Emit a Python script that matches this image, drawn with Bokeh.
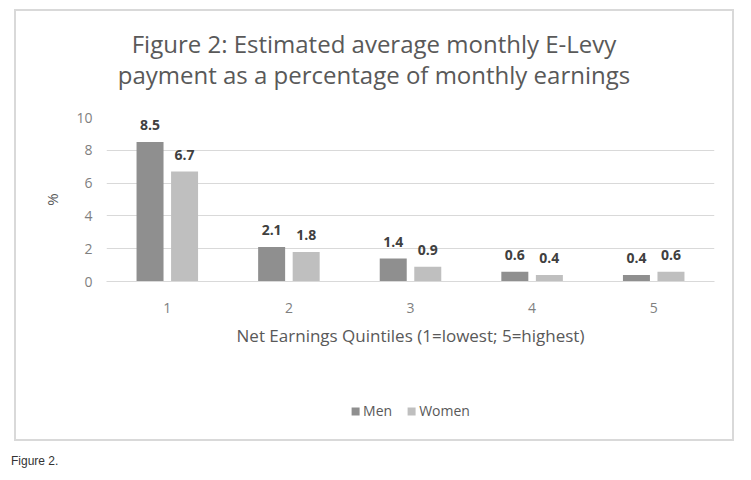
from bokeh.plotting import figure
from bokeh.models import (ColumnDataSource, FactorRange, LabelSet, Legend,
                          LegendItem, Div, FixedTicker, Spacer)
from bokeh.transform import dodge
from bokeh.layouts import column, row
from bokeh.embed import file_html
from bokeh.resources import INLINE
from bokeh.core.properties import value

# ---- data ----
quintiles = ["1", "2", "3", "4", "5"]
men = [8.5, 2.1, 1.4, 0.6, 0.4]
women = [6.7, 1.8, 0.9, 0.4, 0.6]
y_ticks = [0, 2, 4, 6, 8, 10]
title_line1 = "Figure 2: Estimated average monthly E-Levy"
title_line2 = "payment as a percentage of monthly earnings"
x_title = "Net Earnings Quintiles (1=lowest; 5=highest)"
y_title = "%"
series_names = ["Men", "Women"]
caption = "Figure 2."

FONT = "Open Sans"
MEN_C = "#8f8f8f"
WOMEN_C = "#bfbfbf"
GRID_C = "#d9d9d9"
BORDER = f"2px solid {GRID_C}"

src = ColumnDataSource(dict(
    q=quintiles, men=men, women=women,
    men_lbl=[f"{v:.1f}" for v in men],
    women_lbl=[f"{v:.1f}" for v in women],
))

# ---- title block (top part of the bordered box) ----
title_div = Div(
    text=(f'<div style="width:716px; text-align:center; font-family:\'Open Sans\'; '
          f'font-size:24px; color:#595959; line-height:31px; padding-top:17px">'
          f'{title_line1}<br>{title_line2}</div>'),
    width=720, height=100, margin=0,
    styles={"border": BORDER, "border-bottom": "none", "background": "white",
            "text-align": "center"})

# ---- main chart ----
p = figure(x_range=FactorRange(factors=quintiles), y_range=(0, 10),
           width=720, height=282, output_backend="svg", toolbar_location=None,
           title=None, min_border_left=90, min_border_right=22,
           min_border_top=8, min_border_bottom=110,
           background_fill_color="white", border_fill_color="white")
p.outline_line_color = None
p.styles = {"border-left": BORDER, "border-right": BORDER}

bw = 0.222
off = 0.142
r_men = p.vbar(x=dodge("q", -off, range=p.x_range), top="men", width=bw,
               source=src, fill_color=MEN_C, line_color=None)
r_women = p.vbar(x=dodge("q", off, range=p.x_range), top="women", width=bw,
                 source=src, fill_color=WOMEN_C, line_color=None)

for col, lbl, o in (("men", "men_lbl", -off), ("women", "women_lbl", off)):
    p.add_layout(LabelSet(x=dodge("q", o, range=p.x_range), y=col, text=lbl,
                          source=src, y_offset=17, text_align="center",
                          text_baseline="middle", text_font=value(FONT),
                          text_font_size="14px", text_font_style="bold",
                          text_color="#404040"))

# axes
p.yaxis.ticker = FixedTicker(ticks=y_ticks)
p.yaxis.axis_line_color = None
p.yaxis.major_tick_line_color = None
p.yaxis.minor_tick_line_color = None
p.yaxis.major_tick_out = 0
p.yaxis.major_tick_in = 0
p.yaxis.major_label_standoff = 14
p.yaxis.major_label_text_font = FONT
p.yaxis.major_label_text_font_size = "14px"
p.yaxis.major_label_text_color = "#7f7f7f"
p.yaxis.axis_label = y_title
p.yaxis.axis_label_text_font = FONT
p.yaxis.axis_label_text_font_size = "15px"
p.yaxis.axis_label_text_font_style = "normal"
p.yaxis.axis_label_text_color = "#595959"
p.yaxis.axis_label_standoff = 11

p.xaxis.axis_line_color = GRID_C
p.xaxis.axis_line_width = 1
p.xaxis.major_tick_line_color = None
p.xaxis.major_tick_out = 0
p.xaxis.major_tick_in = 0
p.xaxis.major_label_standoff = 21
p.xaxis.major_label_text_font = FONT
p.xaxis.major_label_text_font_size = "14px"
p.xaxis.major_label_text_color = "#7f7f7f"
p.xaxis.axis_label = x_title
p.xaxis.axis_label_text_font = FONT
p.xaxis.axis_label_text_font_size = "17px"
p.xaxis.axis_label_text_font_style = "normal"
p.xaxis.axis_label_text_color = "#595959"
p.xaxis.axis_label_standoff = 8

p.xgrid.grid_line_color = None
p.ygrid.grid_line_color = GRID_C
p.ygrid.grid_line_width = 1

# ---- legend strip (bottom part of the bordered box) ----
lf = figure(width=720, height=50, x_range=FactorRange(factors=quintiles),
            y_range=(100, 101), x_axis_type=None, y_axis_type=None,
            output_backend="svg", toolbar_location=None, title=None,
            min_border=0, min_border_left=0, min_border_right=0,
            min_border_top=0, min_border_bottom=0,
            background_fill_color="white", border_fill_color="white")
lf.outline_line_color = None
lf.grid.visible = False
lf.styles = {"border": BORDER, "border-top": "none"}
# same series, lying far outside the strip's visible range; they only supply legend swatches
lg_men = lf.vbar(x=dodge("q", -off, range=lf.x_range), top="men", width=bw,
                 source=src, fill_color=MEN_C, line_color=None)
lg_women = lf.vbar(x=dodge("q", off, range=lf.x_range), top="women", width=bw,
                   source=src, fill_color=WOMEN_C, line_color=None)

legend = Legend(items=[LegendItem(label=series_names[0], renderers=[lg_men]),
                       LegendItem(label=series_names[1], renderers=[lg_women])],
                orientation="horizontal", location="bottom_center",
                glyph_width=10, glyph_height=10, label_standoff=3, spacing=14,
                padding=0, margin=21, border_line_color=None,
                background_fill_alpha=0, label_text_font=FONT,
                label_text_font_size="14px", label_text_color="#595959")
lf.add_layout(legend, "center")

cap = Div(text=caption, margin=(12, 0, 0, 11),
          styles={"font-family": "Liberation Sans", "font-size": "12px", "color": "#333333"})

chart = row(Spacer(width=14),
            column(Spacer(height=9), title_div, p, lf, spacing=0), spacing=0)
page = column(chart, cap, spacing=0)
open("out.html", "w").write(file_html(page, INLINE))
